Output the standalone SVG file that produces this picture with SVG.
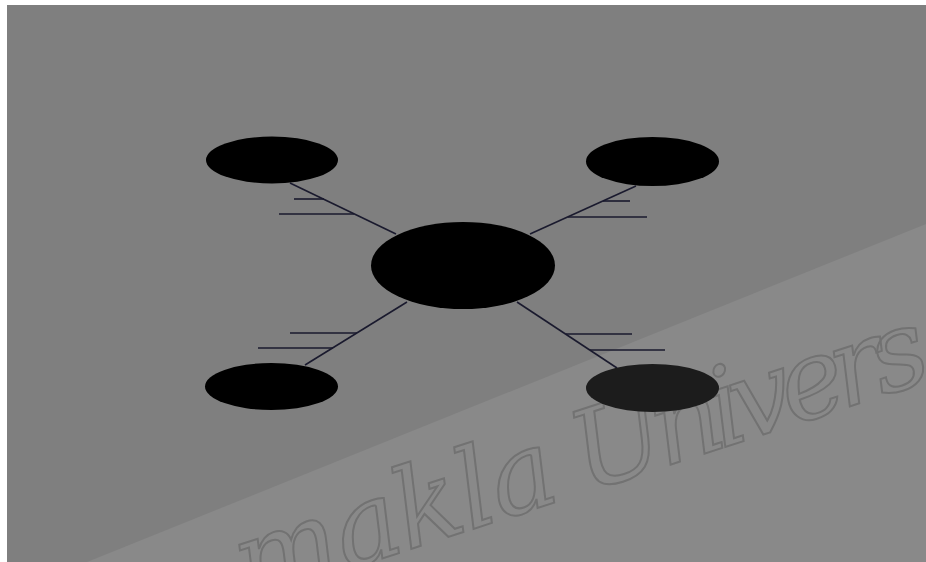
<svg xmlns="http://www.w3.org/2000/svg" width="926" height="562" viewBox="0 0 926 562">
<style>
.node{fill:#000000}
.conn{stroke:#1a1a2e;stroke-width:1.6;fill:none}
.wm{font-family:"DejaVu Serif","Liberation Serif",serif;font-style:italic;font-size:110px;fill:none;stroke:#727272;stroke-width:2}
</style>
<rect x="0" y="0" width="926" height="562" fill="#ffffff"/>
<rect x="7" y="5" width="919" height="557" fill="#7f7f7f"/>
<polygon points="87,562 926,224 926,562" fill="#898989"/>
<g transform="translate(248 602) rotate(-18)">
<text class="wm" x="0" y="0" textLength="332" lengthAdjust="spacing">makla</text>
<text class="wm" x="355" y="0" textLength="368" lengthAdjust="spacing">Univers</text>
</g>
<g id="connectors">
<line class="conn" x1="290" y1="183" x2="396" y2="234"/>
<line class="conn" x1="294" y1="199" x2="324" y2="199"/>
<line class="conn" x1="279" y1="214" x2="354" y2="214"/>
<line class="conn" x1="636" y1="186" x2="530" y2="234"/>
<line class="conn" x1="603" y1="201" x2="630" y2="201"/>
<line class="conn" x1="568" y1="217" x2="647" y2="217"/>
<line class="conn" x1="407" y1="302" x2="305" y2="365"/>
<line class="conn" x1="290" y1="333" x2="357" y2="333"/>
<line class="conn" x1="258" y1="348" x2="333" y2="348"/>
<line class="conn" x1="517" y1="302" x2="617" y2="368"/>
<line class="conn" x1="566" y1="334" x2="632" y2="334"/>
<line class="conn" x1="590" y1="350" x2="665" y2="350"/>
</g>
<g id="center"><ellipse class="node" cx="463" cy="265.5" rx="92" ry="43.5"/></g>
<g id="top-left"><ellipse class="node" cx="272" cy="160" rx="66" ry="23.5"/></g>
<g id="top-right"><ellipse class="node" cx="652.5" cy="161.5" rx="66.5" ry="24.5"/></g>
<g id="bottom-left"><ellipse class="node" cx="271.5" cy="386.5" rx="66.5" ry="23.5"/></g>
<g id="bottom-right"><ellipse class="node" cx="652.5" cy="388" rx="66.5" ry="24" style="fill:#1c1c1c"/></g>
</svg>
